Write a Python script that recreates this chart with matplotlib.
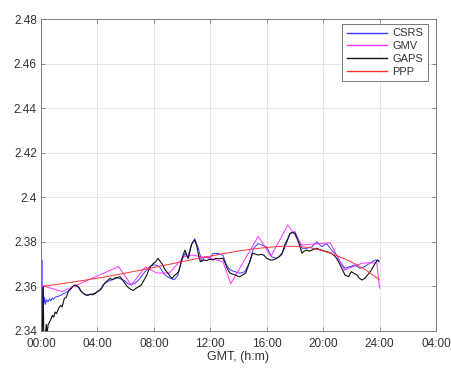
import matplotlib
matplotlib.use("Agg")
import matplotlib.pyplot as plt

plt.rcParams["font.family"] = ["Liberation Sans", "DejaVu Sans"]

# --- Zenith tropospheric delay solutions (m) versus GMT hour ---
csrs_t = [0.00, 0.03, 0.06, 0.09, 0.12, 0.16, 0.20, 0.26, 0.32, 0.40, 0.50, 0.60, 0.70, 0.80,
          0.90, 1.00, 1.20, 1.40, 1.60, 1.80, 2.00, 2.20, 2.40, 2.60, 2.80, 3.00, 3.20, 3.40,
          3.60, 3.80, 4.00, 4.20, 4.40, 4.60, 4.80, 5.00, 5.20, 5.45, 5.70, 5.95, 6.15, 6.35,
          6.65, 7.00, 7.20, 7.40, 7.70, 8.00, 8.20, 8.40, 8.60, 8.80, 9.10, 9.45, 9.70, 9.95,
          10.20, 10.40, 10.65, 10.90, 11.15, 11.40, 11.60, 12.00, 12.20, 12.55, 12.90, 13.15,
          13.40, 13.75, 14.10, 14.45, 14.80, 15.05, 15.40, 15.65, 16.00, 16.35, 16.70, 17.05,
          17.40, 17.65, 18.00, 18.25, 18.50, 18.85, 19.20, 19.55, 19.90, 20.25, 20.60, 20.95,
          21.20, 21.55, 21.90, 22.25, 22.60, 22.95, 23.30, 23.70, 23.95]
csrs_v = [2.3780, 2.3410, 2.3720, 2.3420, 2.3500, 2.3600, 2.3520, 2.3550, 2.3520, 2.3540,
          2.3530, 2.3545, 2.3535, 2.3548, 2.3542, 2.3552, 2.3555, 2.3560, 2.3568, 2.3574,
          2.3580, 2.3596, 2.3604, 2.3600, 2.3580, 2.3569, 2.3563, 2.3561, 2.3565, 2.3569,
          2.3578, 2.3586, 2.3606, 2.3617, 2.3624, 2.3629, 2.3633, 2.3638, 2.3632, 2.3625,
          2.3612, 2.3608, 2.3613, 2.3634, 2.3652, 2.3668, 2.3688, 2.3697, 2.3695, 2.3688,
          2.3668, 2.3651, 2.3638, 2.3630, 2.3650, 2.3710, 2.3748, 2.3728, 2.3786, 2.3814,
          2.3771, 2.3712, 2.3733, 2.3730, 2.3748, 2.3748, 2.3740, 2.3696, 2.3674, 2.3666,
          2.3659, 2.3666, 2.3710, 2.3770, 2.3792, 2.3786, 2.3777, 2.3733, 2.3726, 2.3741,
          2.3792, 2.3838, 2.3846, 2.3808, 2.3771, 2.3771, 2.3778, 2.3800, 2.3778, 2.3792,
          2.3763, 2.3741, 2.3711, 2.3681, 2.3689, 2.3696, 2.3681, 2.3689, 2.3704, 2.3719,
          2.3714]

gmv_t = [0.0, 1.5, 5.5, 6.4, 7.4, 8.2, 9.1, 10.1, 10.7, 12.0, 12.9, 13.45, 15.4, 16.3,
         17.5, 18.5, 20.5, 21.5, 22.8, 23.8, 24.0]
gmv_v = [2.3605, 2.3577, 2.3689, 2.3605, 2.3688, 2.3660, 2.3660, 2.3732, 2.3741, 2.3726,
         2.3711, 2.3612, 2.3825, 2.3735, 2.3876, 2.3786, 2.3796, 2.3674, 2.3705, 2.3706,
         2.3592]

gaps_t = [0.00, 0.03, 0.10, 0.15, 0.20, 0.30, 0.38, 0.42, 0.50, 0.60, 0.70, 0.80, 0.90,
          1.00, 1.10, 1.25, 1.40, 1.50, 1.65, 1.80, 1.95, 2.10, 2.25, 2.40, 2.55, 2.70, 2.85,
          3.00, 3.15, 3.30, 3.50, 3.65, 3.80, 3.95, 4.10, 4.30, 4.50, 4.70, 4.90, 5.05, 5.20,
          5.40, 5.60, 5.75, 5.95, 6.10, 6.25, 6.40, 6.55, 6.70, 6.90, 7.10, 7.30, 7.50, 7.65,
          7.80, 8.00, 8.15, 8.30, 8.45, 8.60, 8.80, 9.00, 9.15, 9.30, 9.45, 9.60, 9.75, 9.90,
          10.00, 10.20, 10.35, 10.45, 10.60, 10.70, 10.90, 11.05, 11.20, 11.30, 11.50, 11.75,
          11.95, 12.20, 12.40, 12.60, 12.90, 13.05, 13.20, 13.40, 13.60, 13.75, 13.95, 14.10,
          14.30, 14.50, 14.65, 14.80, 15.00, 15.20, 15.40, 15.60, 15.80, 16.00, 16.20, 16.40,
          16.70, 16.90, 17.10, 17.30, 17.45, 17.65, 17.85, 18.00, 18.15, 18.30, 18.50, 18.65,
          18.85, 19.00, 19.20, 19.40, 19.55, 19.75, 19.90, 20.10, 20.25, 20.45, 20.60, 20.80,
          20.95, 21.10, 21.25, 21.40, 21.55, 21.80, 22.00, 22.20, 22.40, 22.55, 22.75, 22.95,
          23.10, 23.25, 23.40, 23.55, 23.70, 23.85, 23.97]
gaps_v = [2.3570, 2.3380, 2.3380, 2.3600, 2.3380, 2.3380, 2.3430, 2.3380, 2.3427, 2.3440,
          2.3452, 2.3470, 2.3462, 2.3485, 2.3478, 2.3502, 2.3515, 2.3508, 2.3545, 2.3552,
          2.3580, 2.3588, 2.3600, 2.3607, 2.3602, 2.3595, 2.3578, 2.3569, 2.3562, 2.3560,
          2.3566, 2.3562, 2.3567, 2.3574, 2.3580, 2.3592, 2.3614, 2.3625, 2.3636, 2.3630,
          2.3637, 2.3640, 2.3644, 2.3632, 2.3614, 2.3600, 2.3592, 2.3586, 2.3582, 2.3590,
          2.3598, 2.3606, 2.3628, 2.3651, 2.3676, 2.3692, 2.3705, 2.3712, 2.3726, 2.3712,
          2.3700, 2.3674, 2.3659, 2.3645, 2.3636, 2.3648, 2.3656, 2.3666, 2.3700, 2.3726,
          2.3763, 2.3738, 2.3726, 2.3770, 2.3793, 2.3808, 2.3780, 2.3730, 2.3711, 2.3718,
          2.3716, 2.3722, 2.3719, 2.3726, 2.3724, 2.3726, 2.3705, 2.3681, 2.3659, 2.3655,
          2.3651, 2.3646, 2.3644, 2.3652, 2.3659, 2.3685, 2.3711, 2.3749, 2.3745, 2.3741,
          2.3744, 2.3740, 2.3726, 2.3720, 2.3718, 2.3726, 2.3735, 2.3750, 2.3790, 2.3808,
          2.3838, 2.3842, 2.3838, 2.3815, 2.3790, 2.3749, 2.3758, 2.3763, 2.3758, 2.3763,
          2.3768, 2.3771, 2.3765, 2.3763, 2.3758, 2.3756, 2.3752, 2.3749, 2.3738, 2.3726,
          2.3710, 2.3690, 2.3670, 2.3651, 2.3644, 2.3666, 2.3658, 2.3651, 2.3638, 2.3629,
          2.3636, 2.3648, 2.3659, 2.3672, 2.3689, 2.3705, 2.3719, 2.3711]

ppp_t = list(range(0, 25))
ppp_v = [2.3600, 2.3608, 2.3617, 2.3627, 2.3637, 2.3648, 2.3660, 2.3672, 2.3685, 2.3698,
         2.3711, 2.3724, 2.3736, 2.3748, 2.3759, 2.3768, 2.3775, 2.3780, 2.3780, 2.3775,
         2.3760, 2.3738, 2.3710, 2.3675, 2.3630]

x_ticks = [0, 4, 8, 12, 16, 20, 24, 28]
x_ticklabels = ["00:00", "04:00", "08:00", "12:00", "16:00", "20:00", "24:00", "04:00"]
y_ticks = [2.34, 2.36, 2.38, 2.40, 2.42, 2.44, 2.46, 2.48]
y_ticklabels = ["2.34", "2.36", "2.38", "2.4", "2.42", "2.44", "2.46", "2.48"]

fig = plt.figure(figsize=(4.52, 3.69), dpi=100)
ax = fig.add_axes([0.0907, 0.103, 0.8739, 0.8455])

ax.plot(csrs_t, csrs_v, color="#3a3aff", lw=0.7, label="CSRS")
ax.plot(gmv_t, gmv_v, color="#ff30ff", lw=0.7, label="GMV")
ax.plot(gaps_t, gaps_v, color="#111111", lw=0.8, label="GAPS")
ax.plot(ppp_t, ppp_v, color="#ff3030", lw=0.7, label="PPP")

ax.set_xlim(0, 28)
ax.set_ylim(2.34, 2.48)
ax.set_xticks(x_ticks)
ax.set_xticklabels(x_ticklabels)
ax.set_yticks(y_ticks)
ax.set_yticklabels(y_ticklabels)

ax.grid(True, color="#e3e3e3", lw=0.6)
ax.set_axisbelow(True)
for s in ax.spines.values():
    s.set_color("#7a7a7a")
    s.set_linewidth(0.7)
ax.tick_params(direction="in", length=3, width=0.6, color="#7a7a7a",
               labelsize=8.5, labelcolor="#333333", top=True, right=True)
ax.tick_params(axis="x", pad=5)
ax.tick_params(axis="y", pad=3)

ax.set_xlabel("GMT, (h:m)", fontsize=9, color="#333333", labelpad=1)

leg = ax.legend(loc="upper right", bbox_to_anchor=(0.979, 0.984), fontsize=8,
                frameon=True, fancybox=False, edgecolor="#555555", handlelength=3.6,
                borderpad=0.4, labelspacing=0.25, handletextpad=0.5, borderaxespad=0)
leg.get_frame().set_linewidth(0.7)
for line in leg.get_lines():
    line.set_linewidth(1.0)
for txt in leg.get_texts():
    txt.set_color("#333333")

fig.savefig("out.png", dpi=100)
